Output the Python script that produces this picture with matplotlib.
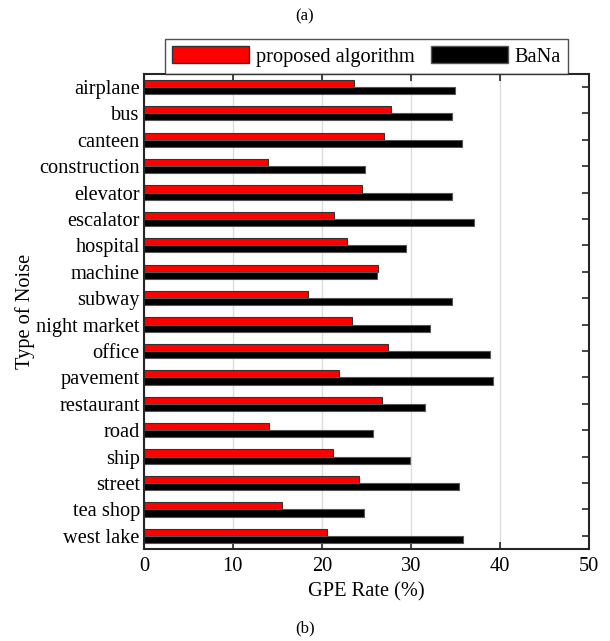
import numpy as np
import matplotlib.pyplot as plt
from matplotlib.patches import Patch

plt.rcParams['font.family'] = ['Liberation Serif', 'DejaVu Serif']

# noise types, top to bottom
noises = ["airplane", "bus", "canteen", "construction", "elevator", "escalator",
          "hospital", "machine", "subway", "night market", "office", "pavement",
          "restaurant", "road", "ship", "street", "tea shop", "west lake"]

# GPE rates (%)
proposed = [23.6, 27.8, 27.0, 13.9, 24.5, 21.4, 22.8, 26.3, 18.5,
            23.4, 27.4, 21.9, 26.8, 14.1, 21.2, 24.2, 15.5, 20.6]
bana = [35.0, 34.6, 35.8, 24.9, 34.6, 37.1, 29.5, 26.2, 34.6,
        32.2, 38.9, 39.2, 31.6, 25.7, 29.9, 35.4, 24.7, 35.9]

if __name__ == "__main__":

    fig = plt.figure(figsize=(6.1, 6.41), dpi=100)
    ax = fig.add_axes([0.236, 0.1435, 0.729, 0.7415])

    y = np.arange(1, len(noises) + 1)
    h = 0.27

    ax.barh(y - h / 2, proposed, height=h, color="#ff0000",
            edgecolor="#333333", linewidth=0.8, zorder=3)
    ax.barh(y + h / 2, bana, height=h, color="#000000",
            edgecolor="#555555", linewidth=0.8, zorder=3)

    # axes layout, matlab style
    ax.set_xlim(0, 50)
    ax.set_ylim(len(noises) + 0.5, 0.5)
    ax.set_yticks(y)
    ax.set_yticklabels(noises)
    ax.set_xticks(np.arange(0, 51, 10))
    ax.xaxis.grid(True, color="#dddddd", linewidth=1, zorder=0)
    ax.tick_params(direction="in", length=5, width=1.2, color="#262626",
                   labelsize=14.7, top=True, right=True)
    ax.tick_params(axis="y", pad=3)
    ax.tick_params(axis="x", pad=6)
    for s in ax.spines.values():
        s.set_color("#262626")
        s.set_linewidth(1.5)
        s.set_zorder(4)

    ax.set_xlabel("GPE Rate (%)", fontsize=14.7, labelpad=4)
    ax.set_ylabel("Type of Noise", fontsize=14.7, labelpad=1)

    # legend above the axes
    handles = [Patch(facecolor="#ff0000", edgecolor="#333333"),
               Patch(facecolor="#000000", edgecolor="#555555")]
    leg = ax.legend(handles, ["proposed algorithm", "BaNa"], ncol=2,
                    loc="lower center", bbox_to_anchor=(0.5, 1.0),
                    borderaxespad=0, fontsize=14.7, fancybox=False,
                    handlelength=3.8, handleheight=0.9, handletextpad=0.3,
                    columnspacing=0.8, borderpad=0.35)
    leg.get_frame().set_edgecolor("#262626")
    leg.get_frame().set_linewidth(1.0)

    # subfigure captions
    fig.text(0.5, 1 - 16 / 641, "(a)", ha="center", va="center", fontsize=12)
    fig.text(0.5, 1 - 628 / 641, "(b)", ha="center", va="center", fontsize=12)

    fig.savefig("out.png", dpi=100)
